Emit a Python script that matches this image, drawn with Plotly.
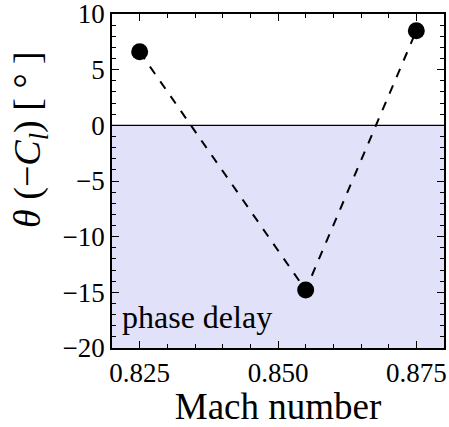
import plotly.graph_objects as go

mach = [0.825, 0.855, 0.875]
theta = [6.6, -14.8, 8.5]

x_range = [0.820, 0.880]
y_range = [-20, 10]
x_ticks = [0.825, 0.850, 0.875]
x_ticklabels = ["0.825", "0.850", "0.875"]
y_ticks = [-20, -15, -10, -5, 0, 5, 10]
y_ticklabels = ["\u221220", "\u221215", "\u221210", "\u22125", "0", "5", "10"]

FONT = "Liberation Serif"

fig = go.Figure()
fig.add_shape(type="rect", xref="x", yref="y", x0=x_range[0], x1=x_range[1],
              y0=y_range[0], y1=0, fillcolor="#e1e1fa", line_width=0, layer="below")
fig.add_shape(type="line", xref="x", yref="y", x0=x_range[0], x1=x_range[1],
              y0=0, y1=0, line=dict(color="black", width=1.2))
fig.add_trace(go.Scatter(x=mach, y=theta, mode="lines+markers",
                         line=dict(color="black", width=2, dash="dash"),
                         marker=dict(color="black", size=17),
                         showlegend=False))
fig.add_annotation(x=0.8215, y=-19.0, xref="x", yref="y", text="phase delay",
                   showarrow=False, xanchor="left", yanchor="bottom",
                   font=dict(family=FONT, size=32, color="black"))
fig.add_annotation(xref="paper", yref="paper", x=-0.245, y=0.625,
                   text="<i>θ</i> (\u2212<i>C<sub>l</sub></i>) [ ° ]",
                   textangle=-90, showarrow=False, xanchor="center", yanchor="middle",
                   font=dict(family=FONT, size=38, color="black"))

axis_common = dict(showline=True, linecolor="black", linewidth=1.5, mirror="allticks",
                   ticks="inside", ticklen=7, tickwidth=1.2, tickcolor="black",
                   showgrid=False, zeroline=False, ticklabeloverflow="allow",
                   automargin=False,
                   tickfont=dict(family=FONT, size=27, color="black"))
fig.update_xaxes(range=x_range, tickvals=x_ticks, ticktext=x_ticklabels,
                 minor=dict(dtick=0.005, tick0=0.825, ticks="inside", ticklen=4,
                            tickcolor="black", tickwidth=1),
                 title=dict(text="Mach number", font=dict(family=FONT, size=37, color="black"),
                            standoff=2),
                 **axis_common)
fig.update_yaxes(range=y_range, tickvals=y_ticks, ticktext=y_ticklabels,
                 minor=dict(dtick=1, tick0=0, ticks="inside", ticklen=4,
                            tickcolor="black", tickwidth=1),
                 **axis_common)
fig.update_layout(width=449, height=427, margin=dict(l=112, r=5, t=14, b=79),
                  plot_bgcolor="white", paper_bgcolor="white")
fig.write_html("out.html")
